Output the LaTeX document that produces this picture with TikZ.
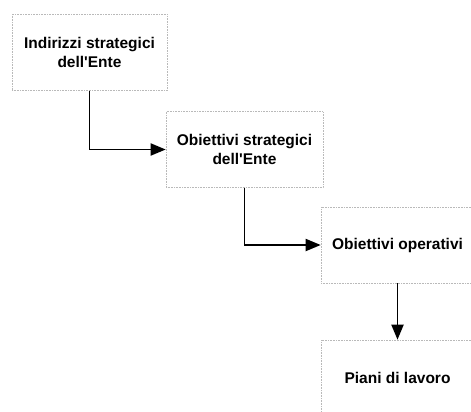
\documentclass[tikz,border=0pt]{standalone}
\usepackage{fontspec}
\setmainfont{Liberation Sans}
\usetikzlibrary{arrows.meta}
\begin{document}
\begin{tikzpicture}[x=1pt,y=1pt,
  stage/.style={draw=gray!55, densely dotted, line width=0.6pt, align=center,
    inner sep=0pt, font=\bfseries\fontsize{15.5}{19}\selectfont,
    minimum width=#1, minimum height=76pt},
  flow/.style={line width=1.9pt, -{Triangle[length=15pt,width=12pt]}}]
  \useasboundingbox (0,0) rectangle (471,-412);
  \node[stage=155pt] (b1) at (89.5,-52.5) {Indirizzi strategici\\dell\textquotesingle Ente};
  \node[stage=157pt] (b2) at (244.5,-149.5) {Obiettivi strategici\\dell\textquotesingle Ente};
  \node[stage=153pt] (b3) at (397.5,-245) {Obiettivi operativi};
  \node[stage=153pt] (b4) at (397.5,-378) {Piani di lavoro};
  \draw[flow] (b1.south) |- (b2.west);
  \draw[flow] (b2.south) |- (b3.west);
  \draw[flow] (b3.south) -- (b4.north);
\end{tikzpicture}
\end{document}
